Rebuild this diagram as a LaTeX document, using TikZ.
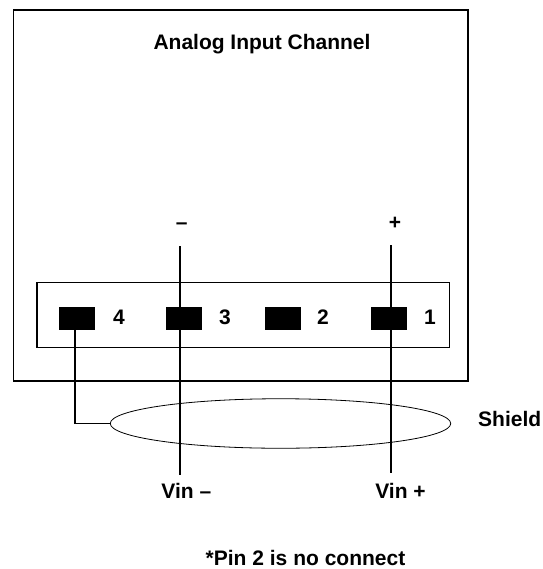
\documentclass[tikz,border=0pt]{standalone}
\usepackage{fontspec}
\setmainfont{Liberation Sans}
\usetikzlibrary{shapes.geometric}
\tikzset{
 px/.style={x=1pt,y=-1pt},
 lbl/.style={font=\fontsize{21}{24}\selectfont\bfseries,inner sep=0pt,anchor=base},
 pin/.style={draw=none,fill=black,minimum width=36pt,minimum height=23pt,inner sep=0pt},
 wire/.style={draw=black,line width=1.4pt},
 box/.style={draw=black,line width=1.5pt,fill=none,inner sep=0pt}
}
\begin{document}
\begin{tikzpicture}[px]
\useasboundingbox (0,0) rectangle (542,569);
\node[box,minimum width=454.5pt,minimum height=370.5pt] (outer) at (240.5,195.5) {};
\node[box,minimum width=412.5pt,minimum height=65pt] (strip) at (243,315.2) {};
\node[pin] (p4) at (77,318.3) {};
\node[pin] (p3) at (184,318.3) {};
\node[pin] (p2) at (283,318.3) {};
\node[pin] (p1) at (389,318.3) {};
\node[lbl] at (119,324) {4};
\node[lbl] at (225,324) {3};
\node[lbl] at (323,324) {2};
\node[lbl] at (430,324) {1};
\node[lbl] at (262,49.3) {Analog Input Channel};
\node[lbl] (minus) at (181.7,229) {--};
\node[lbl] (plus) at (395,229) {+};
\node[draw=black,line width=0.8pt,ellipse,minimum width=340.5pt,minimum height=49.5pt,inner sep=0pt] (shield) at (280.5,423.5) {};
\node[lbl,anchor=base west] at (478,426.7) {Shield};
\node[lbl] (vm) at (186.3,498) {Vin --};
\node[lbl] (vp) at (400.5,498) {Vin +};
\node[lbl] at (305.5,565) {*Pin 2 is no connect};
\coordinate (mt) at (180,246);
\coordinate (mb) at (180,475);
\coordinate (pt) at (391,245);
\coordinate (pb) at (391,473);
\coordinate (bend) at (75,423.5);
\draw[wire] (mt) -- (mb);
\draw[wire] (pt) -- (pb);
\draw[wire] (p4.south -| bend) -- (bend) -- (shield.west);
\end{tikzpicture}
\end{document}
